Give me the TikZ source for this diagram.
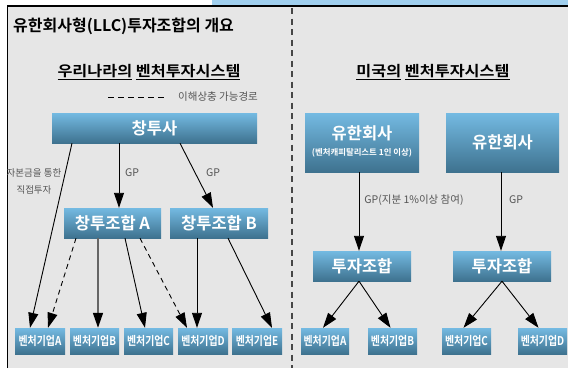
\documentclass[tikz,border=0pt]{standalone}
\usepackage{fontspec}
\setmainfont{Noto Sans CJK KR}[BoldFont={Noto Sans CJK KR Bold}]
\usetikzlibrary{arrows.meta,calc}
\definecolor{panel}{RGB}{230,230,230}
\definecolor{strip}{RGB}{160,207,238}
\definecolor{boxtop}{RGB}{116,186,226}
\definecolor{boxbot}{RGB}{62,114,143}
\definecolor{lblgray}{RGB}{85,85,85}
\definecolor{divgray}{RGB}{70,70,70}
\newcommand\vkname[1]{\scalebox{0.86}[1.05]{#1}}
\begin{document}
\begin{tikzpicture}[x=1pt,y=-1pt,
  box/.style={draw=none, top color=boxtop, bottom color=boxbot, text=white, inner sep=0pt, anchor=center},
  bigtxt/.style={font=\bfseries\fontsize{16.5}{18}\selectfont},
  smalltxt/.style={font=\bfseries\fontsize{11.5}{12}\selectfont},
  boxtxt/.style={text=white, inner sep=0pt},
  lbl/.style={text=lblgray, inner sep=0pt, font=\fontsize{10.5}{17}\selectfont},
  hdr/.style={inner sep=0pt, font=\bfseries\fontsize{14.5}{18}\selectfont},
  arr/.style={-{Triangle[length=15pt,width=10pt,color=black,fill=black]}, line width=0.9pt, black},
  darr/.style={arr, dash pattern=on 5pt off 4pt},
  garr/.style={arr, line width=1.5pt, draw=black!60}
]
\useasboundingbox (0,0) rectangle (568,368);
\fill[white] (0,0) rectangle (568,368);
\fill[strip] (212,0) rectangle (568,6);
\fill[panel] (7,6) rectangle (568,368);
\draw[line width=1.5pt] (7.3,368) -- (7.3,6) -- (568,6);

% divider
\coordinate (d1) at (292,8);
\coordinate (d2) at (292,368);
\draw[divgray, line width=1.3pt, dash pattern=on 6pt off 4.5pt] (d1) -- (d2);

% title
\node[anchor=west, inner sep=0pt, font=\bfseries\fontsize{16}{18}\selectfont] (title) at (13,26) {유한회사형(LLC)투자조합의 개요};

% headers
\node[hdr] (h1) at (149,72) {\scalebox{1.12}[1]{\underline{우리나라의} \underline{벤처투자시스템}}};
\node[hdr] (h2) at (433,72) {\scalebox{1.12}[1]{\underline{미국의} \underline{벤처투자시스템}}};

% legend
\coordinate (l1) at (108,97);
\coordinate (l2) at (166,97);
\draw[line width=0.9pt, dash pattern=on 6pt off 4pt] (l1) -- (l2);
\node[lbl, anchor=west] (legend) at (178,97) {이해상충 가능경로};

% left boxes
\node[box, minimum width=205pt, minimum height=30pt, bigtxt] (cts) at (154.5,128) {창투사};
\node[box, minimum width=97pt, minimum height=30pt, bigtxt] (cA) at (112.5,223) {창투조합 A};
\node[box, minimum width=98pt, minimum height=30pt, bigtxt] (cB) at (219,223) {창투조합 B};
\node[box, minimum width=50pt, minimum height=26pt, smalltxt] (vA) at (40,341) {\vkname{벤처기업A}};
\node[box, minimum width=49pt, minimum height=26pt, smalltxt] (vB) at (94.5,341) {\vkname{벤처기업B}};
\node[box, minimum width=49pt, minimum height=26pt, smalltxt] (vC) at (148.5,341) {\vkname{벤처기업C}};
\node[box, minimum width=50pt, minimum height=26pt, smalltxt] (vD) at (203,341) {\vkname{벤처기업D}};
\node[box, minimum width=50pt, minimum height=26pt, smalltxt] (vE) at (257,341) {\vkname{벤처기업E}};

% right boxes
\node[box, minimum width=114pt, minimum height=59pt] (y1) at (362,142.5) {};
\node[boxtxt, bigtxt] (y1t) at (362,133) {유한회사};
\node[boxtxt, font=\bfseries\fontsize{8.4}{10}\selectfont] (y1s) at (362,153) {(벤처캐피탈리스트 1인 이상)};
\node[box, minimum width=113pt, minimum height=59pt, bigtxt] (y2) at (502.5,142.5) {유한회사};
\node[box, minimum width=98pt, minimum height=30pt, bigtxt] (t1) at (362,266) {투자조합};
\node[box, minimum width=98pt, minimum height=30pt, bigtxt] (t2) at (502,266) {투자조합};
\node[box, minimum width=48pt, minimum height=26pt, smalltxt] (rA) at (325,341) {\vkname{벤처기업A}};
\node[box, minimum width=49pt, minimum height=26pt, smalltxt] (rB) at (392.5,341) {\vkname{벤처기업B}};
\node[box, minimum width=49pt, minimum height=26pt, smalltxt] (rC) at (466.5,341) {\vkname{벤처기업C}};
\node[box, minimum width=49pt, minimum height=26pt, smalltxt] (rD) at (542.5,341) {\vkname{벤처기업D}};

% left arrows
\draw[arr] ([xshift=-82.5pt]cts.south) -- ([xshift=-10pt]vA.north);
\draw[arr] ([xshift=-35.5pt]cts.south) -- ([xshift=6.5pt]cA.north);
\draw[arr] ([xshift=25.5pt]cts.south) -- ([xshift=-6pt]cB.north);
\draw[darr] ([xshift=-36.5pt]cA.south) -- ([xshift=8pt]vA.north);
\draw[garr] ([xshift=-14.5pt]cA.south) -- ([xshift=3.5pt]vB.north);
\draw[arr] ([xshift=12.5pt]cA.south) -- ([xshift=-3.5pt]vC.north);
\draw[darr] ([xshift=27.5pt]cA.south) -- ([xshift=-16pt]vD.north);
\draw[arr] ([xshift=-22pt]cB.south) -- ([xshift=-6pt]vD.north);
\draw[arr] ([xshift=9pt]cB.south) -- ([xshift=15pt]vE.north);

% right arrows
\draw[arr] ([xshift=-3pt]y1.south) -- ([xshift=-3pt]t1.north);
\draw[arr] ([xshift=-1.5pt]y2.south) -- ([xshift=-1pt]t2.north);
\draw[arr] ([xshift=-3pt]t1.south) -- ([xshift=-2pt]rA.north);
\draw[arr] ([xshift=-3pt]t1.south) -- ([xshift=-2pt]rB.north);
\draw[arr] (t2.south) -- ([xshift=-3pt]rC.north);
\draw[arr] (t2.south) -- ([xshift=-4pt]rD.north);

% labels
\node[lbl, align=center, font=\fontsize{9.5}{17}\selectfont] (note) at (34,181) {자본금을 통한\\직접투자};
\node[lbl] (gp1) at (132,173) {GP};
\node[lbl] (gp2) at (213,173) {GP};
\node[lbl] (gp3) at (414,200) {GP(지분 1\%이상 참여)};
\node[lbl] (gp4) at (516,200) {GP};
\end{tikzpicture}
\end{document}
